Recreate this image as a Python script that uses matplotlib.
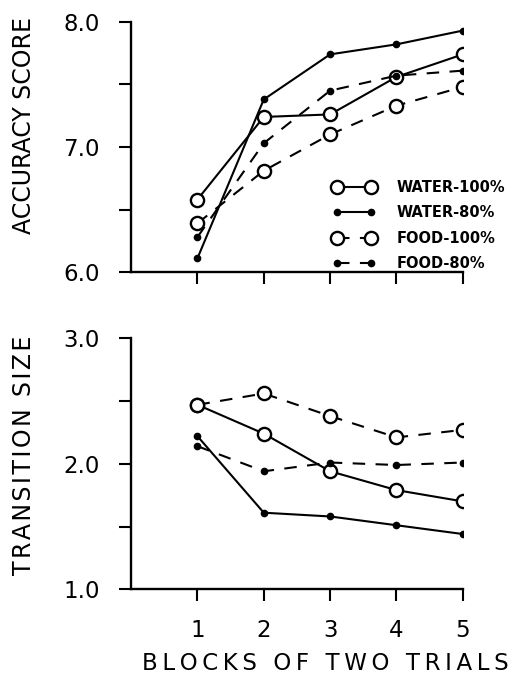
import matplotlib.pyplot as plt
from matplotlib.ticker import MultipleLocator

blocks = [1, 2, 3, 4, 5]

# accuracy score (top panel)
acc_water100 = [6.58, 7.24, 7.26, 7.56, 7.74]
acc_water80 = [6.11, 7.38, 7.74, 7.82, 7.93]
acc_food100 = [6.39, 6.81, 7.10, 7.33, 7.48]
acc_food80 = [6.28, 7.03, 7.45, 7.57, 7.61]

# transition size (bottom panel)
tr_water100 = [2.47, 2.24, 1.94, 1.79, 1.70]
tr_water80 = [2.22, 1.61, 1.58, 1.51, 1.44]
tr_food100 = [2.47, 2.56, 2.38, 2.21, 2.27]
tr_food80 = [2.14, 1.94, 2.01, 1.99, 2.01]

labels = ['WATER-100%', 'WATER-80%', 'FOOD-100%', 'FOOD-80%']

plt.rcParams['font.family'] = 'DejaVu Sans'

fig = plt.figure(figsize=(5.12, 6.82), dpi=100)
ax1 = fig.add_axes([0.256, 0.601, 0.648, 0.367])
ax2 = fig.add_axes([0.256, 0.136, 0.648, 0.368])

open_kw = dict(marker='o', markersize=9.5, markerfacecolor='white', markeredgecolor='black', markeredgewidth=1.7)
dot_kw = dict(marker='o', markersize=4.5, markerfacecolor='black', markeredgecolor='black')
dash = (0, (6, 5))


def draw(ax, w100, w80, f100, f80):
    ax.plot(blocks, w100, color='black', lw=1.5, ls='-', label=labels[0], **open_kw)
    ax.plot(blocks, w80, color='black', lw=1.5, ls='-', label=labels[1], **dot_kw)
    ax.plot(blocks, f100, color='black', lw=1.5, ls=dash, label=labels[2], **open_kw)
    ax.plot(blocks, f80, color='black', lw=1.5, ls=dash, label=labels[3], **dot_kw)
    ax.spines['top'].set_visible(False)
    ax.spines['right'].set_visible(False)
    ax.spines['left'].set_linewidth(1.7)
    ax.spines['bottom'].set_linewidth(1.7)
    ax.set_xlim(0, 5)
    ax.set_xticks(blocks)
    ax.tick_params(axis='both', which='both', direction='out', length=8.5, width=1.5, labelsize=16.5)
    ax.tick_params(axis='y', pad=14)
    ax.tick_params(axis='x', pad=13)
    ax.yaxis.set_minor_locator(MultipleLocator(0.5))


draw(ax1, acc_water100, acc_water80, acc_food100, acc_food80)
ax1.set_ylim(6.0, 8.0)
ax1.set_yticks([6.0, 7.0, 8.0])
ax1.set_yticklabels(['6.0', '7.0', '8.0'])
ax1.set_xticklabels([])
ax1.legend(loc='upper left', bbox_to_anchor=(0.624, 0.755), bbox_transform=fig.transFigure,
           frameon=False, prop={'size': 10.5, 'weight': 'bold'}, numpoints=2,
           handlelength=2.9, labelspacing=0.7, handletextpad=1.5, borderpad=0.4)

draw(ax2, tr_water100, tr_water80, tr_food100, tr_food80)
ax2.set_ylim(1.0, 3.0)
ax2.set_yticks([1.0, 2.0, 3.0])
ax2.set_yticklabels(['1.0', '2.0', '3.0'])


def spaced(text, gap):
    return (gap + ' ' + gap).join(gap.join(w) for w in text.split(' '))


# axis titles placed where they sit in the original figure
fig.text(24 / 512, 1 - 125 / 682, spaced('ACCURACY SCORE', ''), rotation=90, fontsize=17,
         ha='center', va='center')
fig.text(24 / 512, 1 - 455 / 682, spaced('TRANSITION SIZE', '\u200a'), rotation=90, fontsize=17,
         ha='center', va='center')
fig.text(325 / 512, 1 - 664 / 682, spaced('BLOCKS OF TWO TRIALS', '\u2009'), fontsize=16.5,
         ha='center', va='center')

fig.savefig('out.png', dpi=100)
